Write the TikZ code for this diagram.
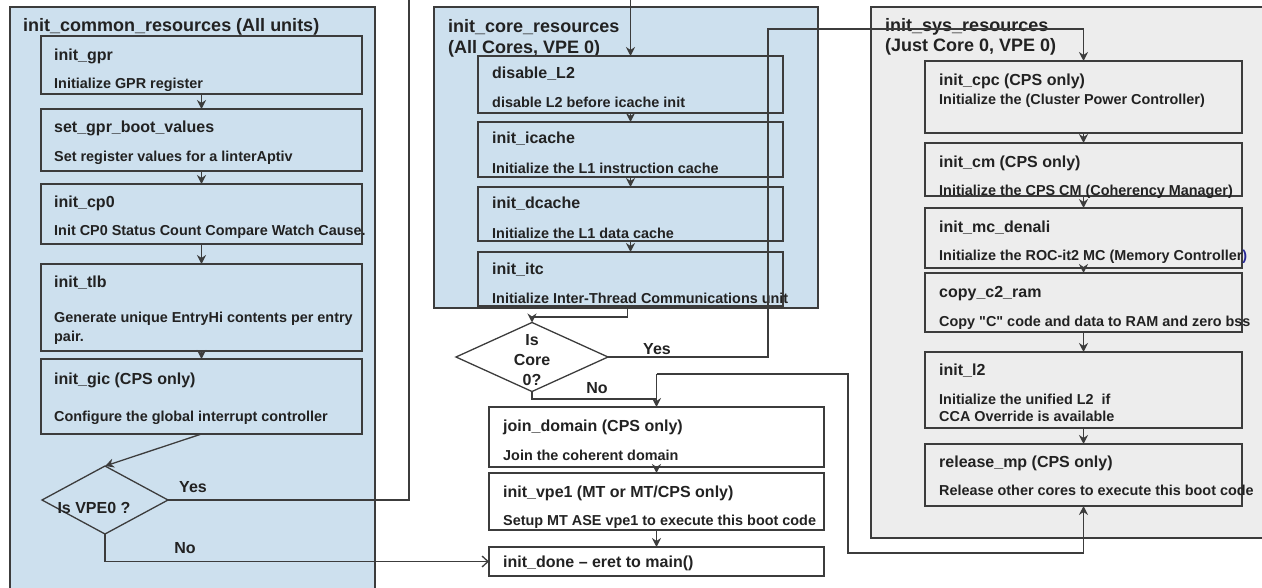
\documentclass[tikz,border=0pt]{standalone}
\usepackage{fontspec}
\setmainfont{Liberation Sans}
\usetikzlibrary{shapes.geometric,arrows.meta}
\definecolor{cfill}{RGB}{205,224,238}
\definecolor{gfill}{RGB}{237,237,237}
\definecolor{ln}{RGB}{60,60,60}
\definecolor{txt}{RGB}{34,34,34}
\definecolor{paren}{RGB}{40,40,150}
\tikzset{
  cont/.style={draw=ln, line width=1.3pt},
  box/.style={draw=ln, line width=1.3pt, anchor=north west, inner sep=0pt, outer sep=0pt},
  dia/.style={draw=ln, line width=1.3pt, diamond, inner sep=0pt, outer sep=0pt},
  ttl/.style={inner sep=0pt, anchor=west, text height=11pt, text depth=0pt, text=txt, font=\bfseries\fontsize{16}{19}\selectfont},
  dsc/.style={inner sep=0pt, anchor=west, text height=10pt, text depth=0pt, text=txt, font=\bfseries\fontsize{14.4}{17}\selectfont},
  hdr/.style={inner sep=0pt, anchor=west, text height=12.6pt, text depth=0pt, text=txt, font=\bfseries\fontsize{18}{21}\selectfont},
  lbl/.style={inner sep=0pt, text=txt, font=\bfseries\fontsize{16}{20}\selectfont},
  conn/.style={draw=ln, line width=1.3pt},
  arr/.style={conn, -{Stealth[length=9pt,width=9pt]}},
}
\begin{document}
\begin{tikzpicture}[x=1pt,y=-1pt]
\useasboundingbox (0,0) rectangle (1262,587);
% containers
\path[cont, fill=cfill] (10,7) rectangle (375,590);
\path[cont, fill=cfill] (434,7) rectangle (818,308);
\path[cont, fill=gfill] (871,7) rectangle (1266,538);

% container headers
\node[hdr] (hL) at (23,25) {init\_common\_resources (All units)};
\node[hdr] (hM1) at (448,26) {init\_core\_resources};
\node[hdr] (hM2) at (448,47) {(All Cores, VPE 0)};
\node[hdr] (hR1) at (885,25) {init\_sys\_resources};
\node[hdr] (hR2) at (885,45) {(Just Core 0, VPE 0)};

% left column boxes
\node[box, minimum width=321pt, minimum height=58pt] (gpr) at (41,36) {};
\node[box, minimum width=321pt, minimum height=62pt] (sgb) at (41,109) {};
\node[box, minimum width=321pt, minimum height=60pt] (cp0) at (41,184) {};
\node[box, minimum width=321pt, minimum height=87pt] (tlb) at (41,264) {};
\node[box, minimum width=321pt, minimum height=75pt] (gic) at (41,359) {};
\node[dia, fill=cfill, minimum width=126pt, minimum height=68pt] (vpe) at (105,500) {};

\node[ttl] (gprT) at (54,55) {init\_gpr};
\node[dsc] (gprD) at (54,83) {Initialize GPR register};
\node[ttl] (sgbT) at (54,127) {set\_gpr\_boot\_values};
\node[dsc] (sgbD) at (54,156) {Set register values for a linterAptiv};
\node[ttl] (cp0T) at (54,202) {init\_cp0};
\node[dsc] (cp0D) at (54,230) {Init CP0 Status Count Compare Watch Cause.};
\node[ttl] (tlbT) at (54,282) {init\_tlb};
\node[dsc] (tlbD) at (54,317) {Generate unique EntryHi contents per entry};
\node[dsc] (tlbE) at (54,336) {pair.};
\node[ttl] (gicT) at (54,379) {init\_gic (CPS only)};
\node[dsc] (gicD) at (54,416) {Configure the global interrupt controller};
\node[lbl] (vpeT) at (94,508) {Is VPE0 ?};
\node[lbl] (yesL) at (193,487) {Yes};
\node[lbl] (noL) at (185,548) {No};

% middle column boxes
\node[box, minimum width=305pt, minimum height=57pt] (dis) at (478,56) {};
\node[box, minimum width=305pt, minimum height=55pt] (ica) at (478,122) {};
\node[box, minimum width=305pt, minimum height=54pt] (dca) at (478,187) {};
\node[box, minimum width=305pt, minimum height=54pt] (itc) at (478,252) {};
\node[dia, minimum width=152pt, minimum height=69pt] (core) at (532,357) {};

\node[ttl] (disT) at (492,73) {disable\_L2};
\node[dsc] (disD) at (492,102) {disable L2 before icache init};
\node[ttl] (icaT) at (492,138) {init\_icache};
\node[dsc] (icaD) at (492,168) {Initialize the L1 instruction cache};
\node[ttl] (dcaT) at (492,203) {init\_dcache};
\node[dsc] (dcaD) at (492,233) {Initialize the L1 data cache};
\node[ttl] (itcT) at (492,269) {init\_itc};
\node[dsc] (itcD) at (492,298) {Initialize Inter-Thread Communications unit};
\node[lbl, align=center] (coreT) at (532,360) {Is\\Core\\0?};
\node[lbl] (yesM) at (657,349) {Yes};
\node[lbl] (noM) at (597,388) {No};

\node[box, minimum width=335pt, minimum height=60pt] (join) at (489,407) {};
\node[box, minimum width=335pt, minimum height=57pt] (vp1) at (489,473) {};
\node[box, minimum width=335pt, minimum height=29pt] (done) at (489,547) {};
\node[ttl] (joinT) at (503,426) {join\_domain (CPS only)};
\node[dsc] (joinD) at (503,455) {Join the coherent domain};
\node[ttl] (vp1T) at (503,492) {init\_vpe1 (MT or MT/CPS only)};
\node[dsc] (vp1D) at (503,520) {Setup MT ASE vpe1 to execute this boot code};
\node[ttl] (doneT) at (503,562) {init\_done -- eret to main()};

% right column boxes
\node[box, minimum width=317pt, minimum height=72pt] (cpc) at (925,61) {};
\node[box, minimum width=317pt, minimum height=53pt] (cm) at (925,143) {};
\node[box, minimum width=317pt, minimum height=60pt] (mc) at (925,208) {};
\node[box, minimum width=317pt, minimum height=59pt] (cpy) at (925,273) {};
\node[box, minimum width=317pt, minimum height=76pt] (l2) at (925,352) {};
\node[box, minimum width=317pt, minimum height=62pt] (rel) at (925,444) {};
\node[ttl] (cpcT) at (939,80) {init\_cpc (CPS only)};
\node[dsc] (cpcD) at (939,99) {Initialize the (Cluster Power Controller)};
\node[ttl] (cmT) at (939,162) {init\_cm (CPS only)};
\node[dsc] (cmD) at (939,190) {Initialize the CPS CM (Coherency Manager)};
\node[ttl] (mcT) at (939,227) {init\_mc\_denali};
\node[dsc] (mcD) at (939,255) {Initialize the ROC-it2 MC (Memory Controller\textcolor{paren}{)}};
\node[ttl] (cpyT) at (939,292) {copy\_c2\_ram};
\node[dsc] (cpyD) at (939,321) {Copy \textquotedbl C\textquotedbl{} code and data to RAM and zero bss};
\node[ttl] (l2T) at (939,370) {init\_l2};
\node[dsc] (l2D) at (939,399) {Initialize the unified L2\ \ if};
\node[dsc] (l2E) at (939,416) {CCA Override is available};
\node[ttl] (relT) at (939,462) {release\_mp (CPS only)};
\node[dsc] (relD) at (939,490) {Release other cores to execute this boot code};

% coordinates for free ends
\coordinate (topL) at (409,0);
\coordinate (topM) at (dis.north |- 0,-2);
\coordinate (J) at (join.north |- 0,374);

% connectors left
\draw[arr] (gpr.south) -- (sgb.north);
\draw[arr] (sgb.south) -- (cp0.north);
\draw[arr] (cp0.south) -- (tlb.north);
\draw[arr] (tlb.south) -- (gic.north);
\draw[arr] (gic.south) -- (vpe.north);
\draw[conn] (vpe.east) -| (topL);
\draw[arr] (topM) -- (dis.north);
\draw[conn, -{Straight Barb[length=6pt,width=11pt]}] (vpe.south) |- (done.west);

% connectors middle
\draw[arr] (dis.south) -- (ica.north);
\draw[arr] (ica.south) -- (dca.north);
\draw[arr] (dca.south) -- (itc.north);
\draw[arr] ([xshift=-3pt]itc.south) -- ++(0,11) -| (core.north);
\draw[arr] (core.east) -- (768,357) -- (768,29) -| (cpc.north);
\draw[conn] (core.south) |- (J |- 0,399);
\draw[arr] (J) -- (join.north);
\draw[arr] (J) -| (848,553) -| (rel.south);
\draw[arr] (join.south) -- (vp1.north);
\draw[arr] (vp1.south) -- (done.north);

% connectors right
\draw[arr] (cpc.south) -- (cm.north);
\draw[arr] (cm.south) -- (mc.north);
\draw[arr] (mc.south) -- (cpy.north);
\draw[arr] (cpy.south) -- (l2.north);
\draw[arr] (l2.south) -- (rel.north);
\end{tikzpicture}
\end{document}
